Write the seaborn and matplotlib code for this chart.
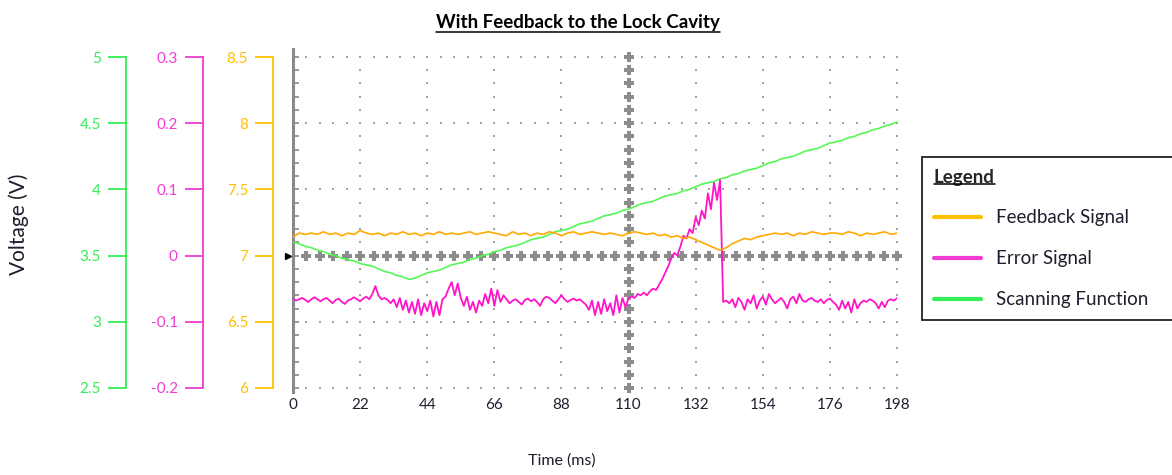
import numpy as np
import matplotlib
matplotlib.use("Agg")
import matplotlib.pyplot as plt
from matplotlib import transforms
from matplotlib.lines import Line2D
import seaborn as sns

# --- data --------------------------------------------------------------
time_slow = np.arange(0, 199, 2)   # ms, feedback + scan sampled every 2 ms
time_fast = np.arange(0, 199, 1)   # ms, error signal sampled every 1 ms

# feedback signal (V, orange scale 6 - 8.5)
feedback_v = [
    7.14, 7.17, 7.16, 7.17, 7.16, 7.18, 7.16, 7.17, 7.15, 7.17,
    7.16, 7.19, 7.17, 7.16, 7.17, 7.15, 7.17, 7.16, 7.18, 7.16,
    7.17, 7.15, 7.17, 7.16, 7.18, 7.16, 7.17, 7.16, 7.17, 7.18,
    7.16, 7.17, 7.18, 7.17, 7.16, 7.15, 7.18, 7.16, 7.17, 7.15,
    7.17, 7.16, 7.18, 7.17, 7.15, 7.17, 7.18, 7.16, 7.17, 7.18,
    7.17, 7.16, 7.17, 7.16, 7.15, 7.17, 7.18, 7.17, 7.16, 7.17,
    7.15, 7.16, 7.14, 7.15, 7.13, 7.14, 7.12, 7.10, 7.08, 7.06,
    7.04, 7.06, 7.09, 7.11, 7.13, 7.12, 7.14, 7.15, 7.16, 7.17,
    7.16, 7.17, 7.15, 7.17, 7.16, 7.18, 7.17, 7.16, 7.17, 7.17,
    7.16, 7.18, 7.17, 7.15, 7.17, 7.16, 7.17, 7.18, 7.16, 7.17,
]

# scanning function (V, green scale 2.5 - 5)
scan_v = [
    3.60, 3.59, 3.57, 3.56, 3.54, 3.53, 3.51, 3.50, 3.48, 3.47,
    3.46, 3.44, 3.43, 3.42, 3.40, 3.38, 3.37, 3.35, 3.34, 3.32,
    3.33, 3.35, 3.37, 3.38, 3.39, 3.41, 3.43, 3.44, 3.45, 3.47,
    3.48, 3.50, 3.51, 3.53, 3.54, 3.56, 3.57, 3.58, 3.60, 3.62,
    3.63, 3.64, 3.66, 3.68, 3.69, 3.70, 3.72, 3.74, 3.75, 3.76,
    3.78, 3.80, 3.81, 3.82, 3.84, 3.85, 3.87, 3.89, 3.90, 3.91,
    3.93, 3.95, 3.96, 3.97, 3.99, 4.00, 4.02, 4.04, 4.05, 4.06,
    4.08, 4.09, 4.11, 4.12, 4.14, 4.15, 4.16, 4.18, 4.20, 4.21,
    4.23, 4.24, 4.25, 4.27, 4.29, 4.30, 4.31, 4.33, 4.35, 4.36,
    4.37, 4.39, 4.40, 4.42, 4.43, 4.45, 4.46, 4.48, 4.49, 4.51,
]

# error signal (V, magenta scale -0.2 - 0.3)
error_v = [
    -0.065, -0.068, -0.066, -0.064, -0.067, -0.070, -0.066, -0.063, -0.066, -0.069,
    -0.066, -0.064, -0.068, -0.072, -0.067, -0.065, -0.070, -0.073, -0.068, -0.066,
    -0.063, -0.066, -0.069, -0.065, -0.062, -0.066, -0.058, -0.046, -0.060, -0.066,
    -0.064, -0.067, -0.072, -0.066, -0.078, -0.064, -0.082, -0.068, -0.086, -0.070,
    -0.088, -0.066, -0.090, -0.072, -0.084, -0.068, -0.092, -0.070, -0.090, -0.066,
    -0.062, -0.050, -0.040, -0.060, -0.042, -0.064, -0.076, -0.062, -0.082, -0.070,
    -0.086, -0.068, -0.076, -0.058, -0.072, -0.050, -0.076, -0.052, -0.070, -0.060,
    -0.066, -0.072, -0.068, -0.066, -0.070, -0.074, -0.067, -0.065, -0.069, -0.066,
    -0.070, -0.076, -0.066, -0.062, -0.064, -0.068, -0.072, -0.066, -0.060, -0.066,
    -0.070, -0.067, -0.065, -0.068, -0.066, -0.070, -0.074, -0.082, -0.068, -0.090,
    -0.070, -0.088, -0.066, -0.084, -0.072, -0.090, -0.060, -0.086, -0.064, -0.078,
    -0.064, -0.062, -0.064, -0.058, -0.060, -0.056, -0.060, -0.054, -0.050, -0.052,
    -0.044, -0.036, -0.026, -0.016, -0.004, 0.004, 0.000, 0.014, 0.030, 0.026,
    0.040, 0.034, 0.058, 0.046, 0.068, 0.056, 0.094, 0.070, 0.110, 0.084,
    0.114, -0.070, -0.068, -0.072, -0.066, -0.078, -0.064, -0.070, -0.082, -0.066,
    -0.072, -0.060, -0.080, -0.068, -0.062, -0.074, -0.058, -0.066, -0.072, -0.068,
    -0.064, -0.070, -0.080, -0.066, -0.062, -0.072, -0.058, -0.068, -0.070, -0.066,
    -0.064, -0.068, -0.070, -0.066, -0.072, -0.067, -0.065, -0.070, -0.074, -0.082,
    -0.068, -0.080, -0.070, -0.086, -0.066, -0.080, -0.072, -0.068, -0.070, -0.066,
    -0.068, -0.072, -0.080, -0.070, -0.078, -0.068, -0.066, -0.068, -0.064,
]

x_ticks = [0, 22, 44, 66, 88, 110, 132, 154, 176, 198]
scan_ticks = [2.5, 3, 3.5, 4, 4.5, 5]
scan_labels = ["2.5", "3", "3.5", "4", "4.5", "5"]
error_ticks = [-0.2, -0.1, 0, 0.1, 0.2, 0.3]
error_labels = ["-0.2", "-0.1", "0", "0.1", "0.2", "0.3"]
feedback_ticks = [6, 6.5, 7, 7.5, 8, 8.5]
feedback_labels = ["6", "6.5", "7", "7.5", "8", "8.5"]

ORANGE_AX, ORANGE_LN = "#FFC000", "#FFAA00"
MAGENTA_AX, MAGENTA_LN = "#F03CD2", "#FF14C8"
GREEN_AX, GREEN_LN = "#33EE55", "#55F755"
GRID = "#a2a2a2"
TXT = "#1e1e2e"

sns.set_theme(style="white")
plt.rcParams["font.family"] = ["Lato", "DejaVu Sans"]

fig = plt.figure(figsize=(11.72, 4.75), dpi=100)
ax = fig.add_axes([0.25, 0.1832, 0.5154, 0.6968])
ax.set_xlim(0, 198)
ax.set_ylim(6, 8.5)
for s in ["top", "right", "bottom"]:
    ax.spines[s].set_visible(False)
ax.spines["left"].set_color("#8a8a8a")
ax.spines["left"].set_linewidth(2.2)
ax.spines["left"].set_bounds(5.97, 8.56)

# scope graticule: dotted major lines, crosshair through the centre
minor_x = np.linspace(0, 198, 46)
minor_y = np.linspace(6, 8.5, 26)
for x in x_ticks[1:]:
    if x == 110:
        continue
    ax.plot(np.full(minor_y.size, x), minor_y, ls="none", marker="s", ms=2.0,
            mew=0, color=GRID, clip_on=False, zorder=1)
for y in feedback_ticks:
    if y == 7:
        continue
    ax.plot(minor_x[1:], np.full(minor_x.size - 1, y), ls="none", marker="s",
            ms=2.0, mew=0, color=GRID, clip_on=False, zorder=1)
ax.plot(np.full(minor_y.size, 110), minor_y, ls="none", marker="P", ms=7,
        mew=0, color="#8c8c8c", clip_on=False, zorder=1)
ax.plot(minor_x[1:], np.full(minor_x.size - 1, 7), ls="none", marker="P",
        ms=7, mew=0, color="#8c8c8c", clip_on=False, zorder=1)

# ground marker
mark_tr = transforms.offset_copy(ax.transData, fig=fig, x=-5, y=0, units="dots")
ax.plot([0], [7], marker=">", ms=4.5, color="black", transform=mark_tr,
        clip_on=False)

ax.set_xticks(x_ticks)
ax.set_xticklabels([str(t) for t in x_ticks])
ax.set_yticks(minor_y)
ax.set_yticklabels([])
ax.tick_params(axis="x", length=0, pad=7, labelsize=11, labelcolor=TXT)
ax.tick_params(axis="y", left=True, direction="in", length=4, width=1.2,
               color="#8a8a8a")


def scale_axis(host, pos, lim, ticks, labels, color):
    a = host.twinx()
    a.set_xlim(0, 198)
    a.set_ylim(*lim)
    a.yaxis.set_ticks_position("left")
    for s in ["top", "right", "bottom"]:
        a.spines[s].set_visible(False)
    a.spines["left"].set_position(("axes", pos))
    a.spines["left"].set_color(color)
    a.spines["left"].set_linewidth(1.3)
    a.set_yticks(ticks)
    a.set_yticklabels(labels)
    a.tick_params(axis="y", left=True, right=False, direction="out", length=13,
                  width=1.3, color=color, labelcolor=color, pad=5, labelsize=11)
    return a


ax_scan = scale_axis(ax, -0.2765, (2.5, 5), scan_ticks, scan_labels, GREEN_AX)
ax_err = scale_axis(ax, -0.1495, (-0.2, 0.3), error_ticks, error_labels, MAGENTA_AX)
ax_fb = scale_axis(ax, -0.0331, (6, 8.5), feedback_ticks, feedback_labels, ORANGE_AX)

sns.lineplot(x=time_slow, y=feedback_v, ax=ax_fb, color=ORANGE_LN, lw=1.2,
             legend=False)
sns.lineplot(x=time_fast, y=error_v, ax=ax_err, color=MAGENTA_LN, lw=1.3,
             legend=False)
sns.lineplot(x=time_slow, y=scan_v, ax=ax_scan, color=GREEN_LN, lw=1.2,
             legend=False)
for a in (ax_scan, ax_err, ax_fb):
    a.set_xlabel("")
    a.set_ylabel("")

fig.text(19 / 1172, 1 - 224 / 475, "Voltage (V)", rotation=90, ha="center",
         va="center", fontsize=15, color=TXT)
fig.text(562 / 1172, 1 - 461 / 475, "Time (ms)", ha="center", va="center",
         fontsize=11.5, color=TXT)
title = fig.text(578 / 1172, 1 - 28 / 475, "With Feedback to the Lock Cavity",
                 ha="center", va="baseline", fontsize=13.5, weight="bold",
                 color="black")

handles = [Line2D([], [], color=ORANGE_AX, lw=3),
           Line2D([], [], color=MAGENTA_AX, lw=3),
           Line2D([], [], color=GREEN_AX, lw=3)]
leg = fig.legend(handles, ["Feedback Signal", "Error Signal", "Scanning Function"],
                 loc="upper left", bbox_to_anchor=(922 / 1172, 1 - 157 / 475, 0.26, 0),
                 mode="expand", title="Legend", alignment="left",
                 title_fontproperties={"weight": "bold", "size": 13.5},
                 fontsize=13.5, frameon=True, fancybox=False, edgecolor="#222222",
                 framealpha=1, handlelength=2.55, handletextpad=0.75,
                 labelspacing=1.27, borderpad=0.62, borderaxespad=0)
leg.get_frame().set_linewidth(1.3)
for t in leg.get_texts():
    t.set_color(TXT)

# underline the title and the legend heading
fig.canvas.draw()
W, H = fig.canvas.get_width_height()
bb = title.get_window_extent()
y = (1 - 31.5 / 475) * H
fig.add_artist(Line2D([bb.x0 / W, bb.x1 / W], [y / H, y / H],
                      transform=fig.transFigure, color="black", lw=1.1,
                      zorder=10))
bb = leg.get_title().get_window_extent()
y = bb.y0 + 2
fig.add_artist(Line2D([bb.x0 / W, bb.x1 / W], [y / H, y / H],
                      transform=fig.transFigure, color="black", lw=1.1,
                      zorder=10))

fig.savefig("out.png", dpi=100)
